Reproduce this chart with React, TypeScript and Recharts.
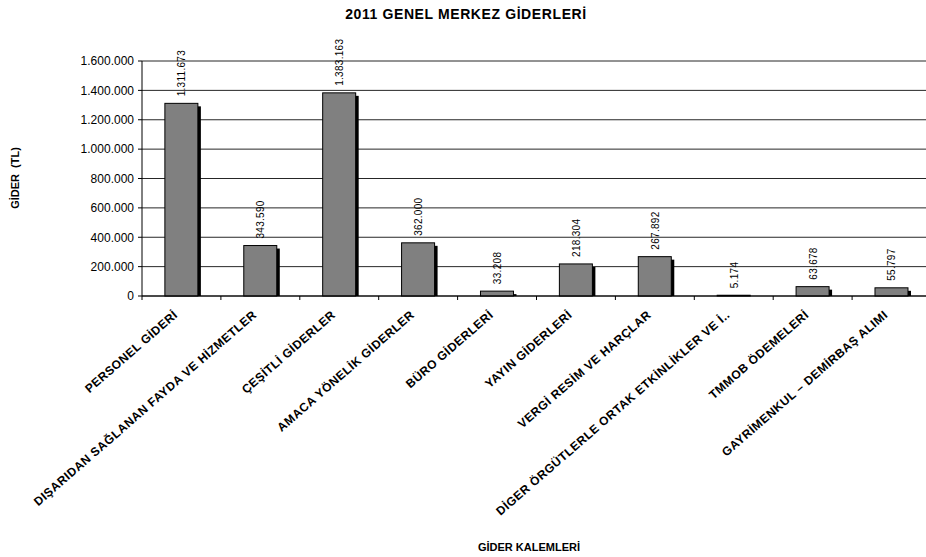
import { BarChart, Bar, XAxis, YAxis, CartesianGrid, LabelList } from "recharts";

const kalemler = [
  "PERSONEL GİDERİ",
  "DIŞARIDAN SAĞLANAN FAYDA VE HİZMETLER",
  "ÇEŞİTLİ GİDERLER",
  "AMACA YÖNELİK GİDERLER",
  "BÜRO GİDERLERİ",
  "YAYIN GİDERLERİ",
  "VERGİ RESİM VE HARÇLAR",
  "DİGER ÖRGÜTLERLE ORTAK ETKİNLİKLER VE İ..",
  "TMMOB ÖDEMELERİ",
  "GAYRİMENKUL – DEMİRBAŞ ALIMI",
];
const giderler = [1311673, 343590, 1383163, 362000, 33208, 218304, 267892, 5174, 63678, 55797];
const yTicks = [0, 200000, 400000, 600000, 800000, 1000000, 1200000, 1400000, 1600000];

const data = kalemler.map((k, i) => ({ kalem: k, gider: giderler[i] }));

const fmt = (v: number) => String(v).replace(/\B(?=(\d{3})+(?!\d))/g, ".");

const FONT = "'Liberation Sans', Arial, sans-serif";
const CHART_W = 940;
const MARGIN = { top: 61, right: 9, left: 0, bottom: 21 };
const Y_W = 142;
const BAND = (CHART_W - MARGIN.right - MARGIN.left - Y_W) / kalemler.length;

const ShadowBar = (props: any) => {
  const { x, y, width, height } = props;
  if (height <= 0) return null;
  return (
    <g>
      <rect x={x + 3} y={y + 3} width={width} height={Math.max(height - 3, 0)} fill="#000" />
      <rect x={x} y={y} width={width} height={height} fill="#808080" stroke="#000" strokeWidth={1} />
    </g>
  );
};

const CatTick = (props: any) => {
  const { x, y, payload, index } = props;
  const ax = y;
  const tx = x - 3;
  const ty = ax + 20;
  return (
    <g>
      <line x1={x - BAND / 2} y1={ax} x2={x - BAND / 2} y2={ax + 4} stroke="#000" />
      {index === kalemler.length - 1 && (
        <line x1={x + BAND / 2} y1={ax} x2={x + BAND / 2} y2={ax + 4} stroke="#000" />
      )}
      <text
        x={tx}
        y={ty}
        textAnchor="end"
        transform={`rotate(-41 ${tx} ${ty})`}
        fontSize={12}
        letterSpacing={0.5}
        fontWeight="bold"
        fontFamily={FONT}
        fill="#000"
      >
        {payload.value}
      </text>
    </g>
  );
};

const ValueLabel = (props: any) => {
  const { x, y, width, value } = props;
  const cx = x + width / 2 + 4;
  const cy = y - 7;
  return (
    <text
      x={cx}
      y={cy}
      transform={`rotate(-90 ${cx} ${cy})`}
      fontSize={10}
      letterSpacing={0.3}
      fontFamily={FONT}
      fill="#000"
      textAnchor="start"
    >
      {fmt(value)}
    </text>
  );
};

export default function App() {
  return (
    <div
      style={{
        position: "absolute",
        left: 0,
        top: 0,
        width: 926,
        height: 557,
        overflow: "hidden",
        background: "#fff",
        fontFamily: FONT,
      }}
    >
      <div
        style={{
          position: "absolute",
          top: 6,
          left: 0,
          width: 932,
          textAlign: "center",
          fontSize: 14,
          letterSpacing: 0.6,
          fontWeight: "bold",
        }}
      >
        2011 GENEL MERKEZ GİDERLERİ
      </div>
      <div
        style={{
          position: "absolute",
          left: 15,
          top: 178,
          transform: "translate(-50%, -50%) rotate(-90deg)",
          fontSize: 11,
          fontWeight: "bold",
          whiteSpace: "pre",
        }}
      >
        {"GİDER  (TL)"}
      </div>
      <div
        style={{
          position: "absolute",
          left: 529,
          top: 541,
          transform: "translateX(-50%)",
          fontSize: 11,
          fontWeight: "bold",
          whiteSpace: "nowrap",
        }}
      >
        GİDER KALEMLERİ
      </div>
      <div style={{ position: "absolute", left: 0, top: 0 }}>
        <BarChart width={CHART_W} height={557} data={data} margin={MARGIN} barCategoryGap="29%">
          <CartesianGrid vertical={false} stroke="#000" strokeOpacity={0.85} />
          <XAxis
            dataKey="kalem"
            interval={0}
            height={240}
            tickLine={false}
            tickSize={0}
            tickMargin={0}
            axisLine={{ stroke: "#000" }}
            tick={<CatTick />}
          />
          <YAxis
            width={Y_W}
            domain={[0, 1600000]}
            ticks={yTicks}
            tickFormatter={fmt}
            tickSize={4}
            tickMargin={4}
            axisLine={{ stroke: "#000" }}
            tickLine={{ stroke: "#000" }}
            tick={{ fontSize: 12, fill: "#000", fontFamily: FONT }}
          />
          <Bar dataKey="gider" shape={<ShadowBar />} isAnimationActive={false}>
            <LabelList dataKey="gider" content={<ValueLabel />} />
          </Bar>
        </BarChart>
      </div>
    </div>
  );
}
